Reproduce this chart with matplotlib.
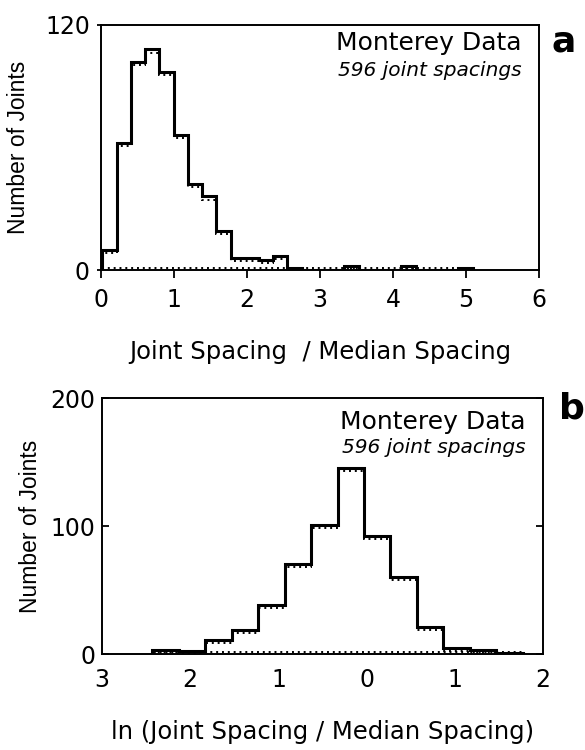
import matplotlib
matplotlib.use("Agg")
import matplotlib.pyplot as plt
import matplotlib.transforms as mtransforms
import numpy as np

plt.rcParams["font.family"] = ["DejaVu Sans"]

# panel a: joint spacing / median spacing
a_start = 0.02
a_width = 0.195
a_counts = [10, 62, 102, 108, 97, 66, 42, 36, 19, 6, 6, 5, 7, 1,
            0, 0, 0, 2, 0, 0, 0, 2, 0, 0, 0, 1]
a_xticks = [0, 1, 2, 3, 4, 5, 6]
a_yticks = [0, 120]

# panel b: ln(joint spacing / median spacing)
b_start = -2.43
b_width = 0.30
b_counts = [3, 2, 11, 19, 38, 70, 101, 145, 92, 60, 21, 5, 3, 1]
b_xticks = [-3, -2, -1, 0, 1, 2]
b_xlabels = ["3", "2", "1", "0", "1", "2"]
b_yticks = [0, 100, 200]

TITLE = "Monterey Data"
SUBTITLE = "596 joint spacings"
YLAB_FONT = ["Liberation Sans", "DejaVu Sans"]


def draw_hist(fig, ax, counts, start, width):
    counts = np.asarray(counts, dtype=float)
    edges = start + width * np.arange(len(counts) + 1)
    down = mtransforms.ScaledTranslation(0, -2.2 / 72, fig.dpi_scale_trans)
    up = mtransforms.ScaledTranslation(0, 1.8 / 72, fig.dpi_scale_trans)
    # dotted companion outline just under the solid one
    ax.stairs(counts, edges, color="k", lw=1.4, ls=(0, (1, 2)),
              transform=ax.transData + down, zorder=2)
    ax.plot([edges[0], edges[-1]], [0, 0], color="k", lw=1.4,
            ls=(0, (1, 2)), transform=ax.transData + up, zorder=2)
    ax.stairs(counts, edges, color="k", lw=2.2, zorder=3)


fig = plt.figure(figsize=(5.85, 7.5), dpi=100)

# ---- panel a
ax_a = fig.add_axes([0.1726, 0.64, 0.7487, 0.3267])
draw_hist(fig, ax_a, a_counts, a_start, a_width)
ax_a.set_xlim(0, 6)
ax_a.set_ylim(0, 120)
ax_a.set_xticks(a_xticks)
ax_a.set_yticks(a_yticks)
ax_a.tick_params(axis="x", direction="out", length=6, width=1.3,
                 labelsize=17, pad=7)
ax_a.tick_params(axis="y", direction="out", length=3, width=1.3,
                 labelsize=17, pad=5)
ax_a.set_ylabel("Number of Joints", fontsize=16.5, labelpad=11,
                family=YLAB_FONT)
ax_a.set_xlabel("Joint Spacing  / Median Spacing", fontsize=17.5,
                labelpad=20)
ax_a.text(0.96, 0.975, TITLE, transform=ax_a.transAxes, ha="right",
          va="top", fontsize=18)
ax_a.text(0.96, 0.855, SUBTITLE, transform=ax_a.transAxes, ha="right",
          va="top", fontsize=14.5, style="italic")
fig.text(0.943, 0.944, "a", fontsize=26, fontweight="bold", va="center")

# ---- panel b
ax_b = fig.add_axes([0.1744, 0.128, 0.7538, 0.3413])
draw_hist(fig, ax_b, b_counts, b_start, b_width)
ax_b.set_xlim(-3, 2)
ax_b.set_ylim(0, 200)
ax_b.set_xticks(b_xticks)
ax_b.set_xticklabels(b_xlabels)
ax_b.set_yticks(b_yticks)
ax_b.tick_params(axis="x", direction="in", length=0, labelsize=17, pad=10)
ax_b.tick_params(axis="y", direction="in", length=5, width=1.3,
                 labelsize=17, pad=5, right=True)
ax_b.set_ylabel("Number of Joints", fontsize=16.5, labelpad=6,
                family=YLAB_FONT)
ax_b.set_xlabel("ln (Joint Spacing / Median Spacing)", fontsize=17.5,
                labelpad=20)
ax_b.text(0.96, 0.955, TITLE, transform=ax_b.transAxes, ha="right",
          va="top", fontsize=18)
ax_b.text(0.96, 0.845, SUBTITLE, transform=ax_b.transAxes, ha="right",
          va="top", fontsize=14.5, style="italic")
fig.text(0.955, 0.455, "b", fontsize=26, fontweight="bold", va="center")

for ax in (ax_a, ax_b):
    for sp in ax.spines.values():
        sp.set_linewidth(1.4)

fig.savefig("out.png", dpi=100)
